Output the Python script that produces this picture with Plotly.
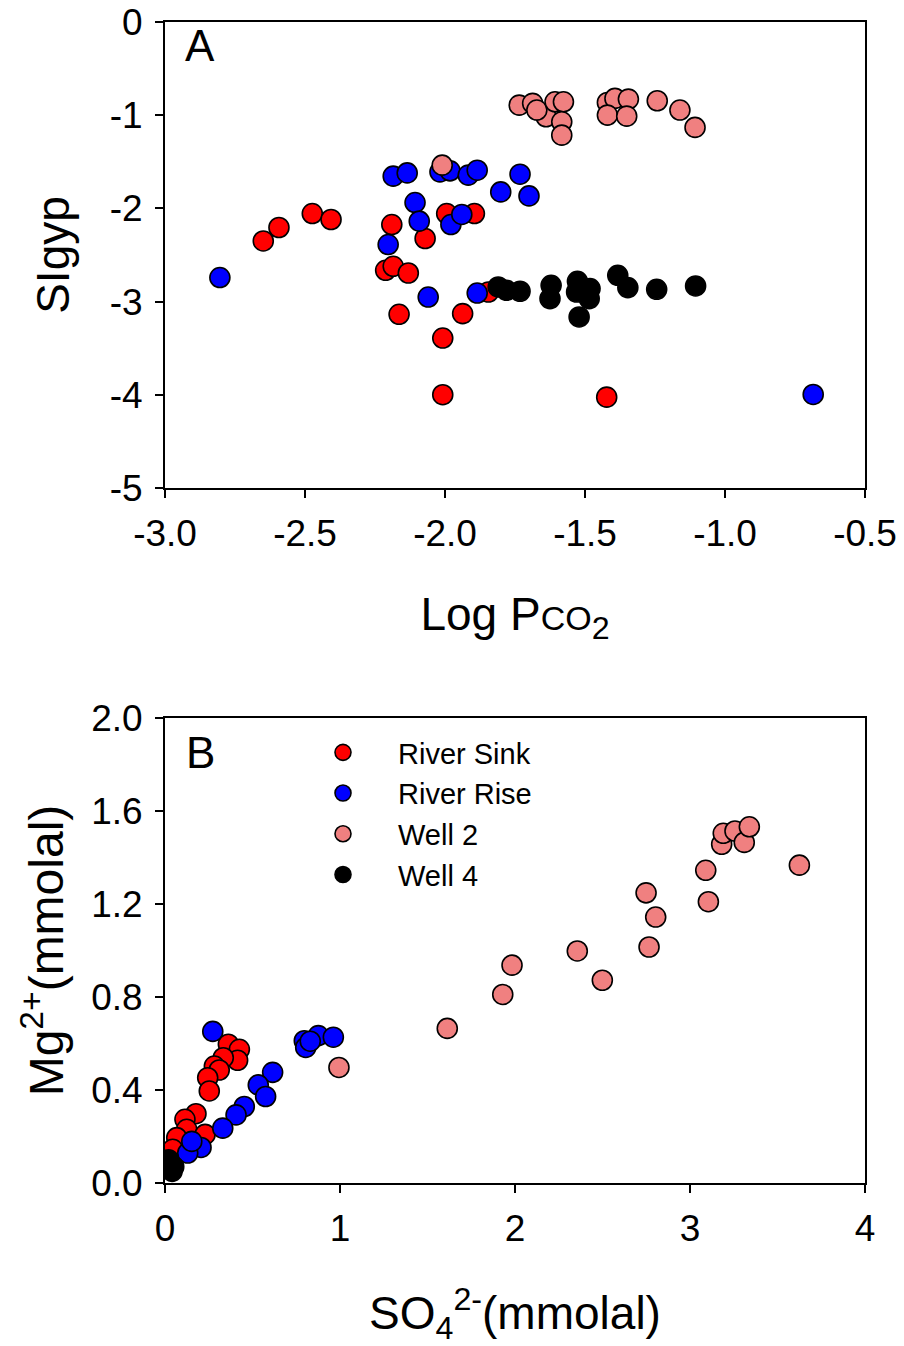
import plotly.graph_objects as go

# ---------------- Panel A data: Log PCO2 vs SIgyp ----------------
a_sink_x = [-2.649, -2.593, -2.474, -2.407, -2.190, -2.212, -2.185, -2.131, -2.071, -1.994,
            -1.895, -2.164, -1.937, -2.008, -2.008, -1.4225, -1.845]
a_sink_y = [-2.349, -2.205, -2.055, -2.119, -2.173, -2.664, -2.621, -2.693, -2.323, -2.055,
            -2.055, -3.136, -3.129, -3.391, -3.999, -4.025, -2.897]

a_rise_x = [-2.804, -2.185, -2.135, -2.018, -1.982, -1.917, -1.885, -1.801, -1.732, -1.700,
            -2.107, -2.092, -1.979, -1.940, -2.203, -2.060, -1.885, -0.685]
a_rise_y = [-2.742, -1.654, -1.619, -1.608, -1.597, -1.643, -1.590, -1.823, -1.633, -1.866,
            -1.937, -2.137, -2.173, -2.065, -2.388, -2.951, -2.908, -3.996]

a_well2_x = [-2.010, -1.735, -1.687, -1.639, -1.672, -1.607, -1.577, -1.583, -1.583, -1.420,
             -1.393, -1.345, -1.420, -1.351, -1.242, -1.161, -1.107]
a_well2_y = [-1.536, -0.892, -0.873, -1.017, -0.945, -0.856, -0.856, -1.071, -1.214, -0.863,
             -0.820, -0.827, -0.999, -1.010, -0.845, -0.945, -1.131]

a_well4_x = [-1.810, -1.780, -1.732, -1.621, -1.625, -1.527, -1.530, -1.482, -1.485, -1.521,
             -1.383, -1.347, -1.244, -1.105]
a_well4_y = [-2.843, -2.879, -2.889, -2.825, -2.968, -2.782, -2.897, -2.860, -2.968, -3.165,
             -2.718, -2.850, -2.868, -2.832]

# ---------------- Panel B data: SO4 vs Mg ----------------
b_sink_x = [0.362, 0.425, 0.415, 0.333, 0.282, 0.310, 0.244, 0.253, 0.177, 0.114,
            0.124, 0.229, 0.067, 0.044]
b_sink_y = [0.597, 0.575, 0.528, 0.539, 0.503, 0.486, 0.453, 0.396, 0.298, 0.274,
            0.231, 0.209, 0.195, 0.145]

b_rise_x = [0.273, 0.796, 0.804, 0.876, 0.962, 0.830, 0.615, 0.533, 0.575, 0.453,
            0.406, 0.330, 0.206, 0.130, 0.153, 0.010]
b_rise_y = [0.652, 0.612, 0.583, 0.634, 0.627, 0.610, 0.476, 0.422, 0.372, 0.329,
            0.293, 0.236, 0.153, 0.129, 0.179, 0.082]

b_well2_x = [0.994, 1.613, 1.930, 1.983, 2.356, 2.499, 2.766, 2.804, 2.749, 3.105,
             3.090, 3.181, 3.190, 3.257, 3.310, 3.339, 3.625]
b_well2_y = [0.497, 0.665, 0.811, 0.937, 0.998, 0.872, 1.015, 1.144, 1.248, 1.210,
             1.345, 1.457, 1.504, 1.514, 1.465, 1.532, 1.367]

b_well4_x = [0.020, 0.030, 0.040, 0.050, 0.020]
b_well4_y = [0.080, 0.060, 0.050, 0.070, 0.100]

series_names = ["River Sink", "River Rise", "Well 2", "Well 4"]
series_colors = ["#FF0000", "#0000FF", "#F08080", "#000000"]

# tick labels
a_xticks = [-3.0, -2.5, -2.0, -1.5, -1.0, -0.5]
a_xtext = ["-3.0", "-2.5", "-2.0", "-1.5", "-1.0", "-0.5"]
a_yticks = [0, -1, -2, -3, -4, -5]
a_ytext = ["0", "-1", "-2", "-3", "-4", "-5"]
b_xticks = [0, 1, 2, 3, 4]
b_xtext = ["0", "1", "2", "3", "4"]
b_yticks = [0.0, 0.4, 0.8, 1.2, 1.6, 2.0]
b_ytext = ["0.0", "0.4", "0.8", "1.2", "1.6", "2.0"]

FONT = "Liberation Sans, Arial, sans-serif"
MSIZE = 20
TICK_FS = 37
TITLE_FS = 46

fig = go.Figure()

a_data = [(a_sink_x, a_sink_y), (a_rise_x, a_rise_y), (a_well2_x, a_well2_y), (a_well4_x, a_well4_y)]
b_data = [(b_sink_x, b_sink_y), (b_rise_x, b_rise_y), (b_well2_x, b_well2_y), (b_well4_x, b_well4_y)]

for i, (xs, ys) in enumerate(a_data):
    fig.add_trace(go.Scatter(
        x=xs, y=ys, mode="markers", name=series_names[i], showlegend=False,
        marker=dict(size=MSIZE, color=series_colors[i], line=dict(color="black", width=1.6)),
        xaxis="x", yaxis="y"))

for i, (xs, ys) in enumerate(b_data):
    fig.add_trace(go.Scatter(
        x=xs, y=ys, mode="markers", name=series_names[i], showlegend=True,
        legendgroup=series_names[i],
        marker=dict(size=MSIZE, color=series_colors[i], line=dict(color="black", width=1.6)),
        xaxis="x2", yaxis="y2"))

W, H = 904, 1346
def px_x(p):
    return p / W
def px_y(p):
    return 1 - p / H

axis_common = dict(
    showline=True, linecolor="black", linewidth=2, mirror=True,
    ticks="outside", ticklen=8, tickwidth=1.5, tickcolor="black",
    showgrid=False, zeroline=False, automargin=False,
    tickfont=dict(family=FONT, size=TICK_FS, color="black"),
)

fig.update_layout(
    width=W, height=H, autosize=False,
    margin=dict(l=0, r=0, t=0, b=0, pad=0),
    paper_bgcolor="white", plot_bgcolor="white",
    font=dict(family=FONT, color="black"),
    xaxis=dict(axis_common, domain=[px_x(165), px_x(865)], range=[-3.0, -0.5],
               tickvals=a_xticks, ticktext=a_xtext, anchor="y", ticklabelstandoff=4,
               title=dict(text="Log P<span style='font-size:34px'>CO</span><sub>2</sub>",
                          font=dict(size=TITLE_FS, family=FONT), standoff=44)),
    yaxis=dict(axis_common, domain=[px_y(488), px_y(22)], range=[-5, 0],
               tickvals=a_yticks, ticktext=a_ytext, anchor="x", ticklabelstandoff=5,
               title=dict(text="SIgyp", font=dict(size=TITLE_FS, family=FONT), standoff=26)),
    xaxis2=dict(axis_common, domain=[px_x(165), px_x(865)], range=[0, 4],
                tickvals=b_xticks, ticktext=b_xtext, anchor="y2", ticklabelstandoff=4,
                title=dict(text="SO<sub>4</sub><sup>2-</sup>(mmolal)",
                           font=dict(size=TITLE_FS, family=FONT), standoff=56)),
    yaxis2=dict(axis_common, domain=[px_y(1183), px_y(718)], range=[0, 2.0],
                tickvals=b_yticks, ticktext=b_ytext, anchor="x2", ticklabelstandoff=5,
                title=dict(text="Mg<sup>2+</sup>(mmolal)", font=dict(size=48, family=FONT), standoff=12)),
    legend=dict(x=px_x(288), y=px_y(727), xanchor="left", yanchor="top",
                bgcolor="rgba(0,0,0,0)", borderwidth=0,
                font=dict(family=FONT, size=29, color="black"),
                traceorder="grouped", tracegroupgap=0, itemwidth=100),
    showlegend=True,
)

fig.add_annotation(text="A", xref="paper", yref="paper", x=px_x(200), y=px_y(46),
                   xanchor="center", yanchor="middle",
                   showarrow=False, font=dict(family=FONT, size=44, color="black"))
fig.add_annotation(text="B", xref="paper", yref="paper", x=px_x(200), y=px_y(752),
                   xanchor="center", yanchor="middle",
                   showarrow=False, font=dict(family=FONT, size=44, color="black"))

fig.write_html("out.html")
